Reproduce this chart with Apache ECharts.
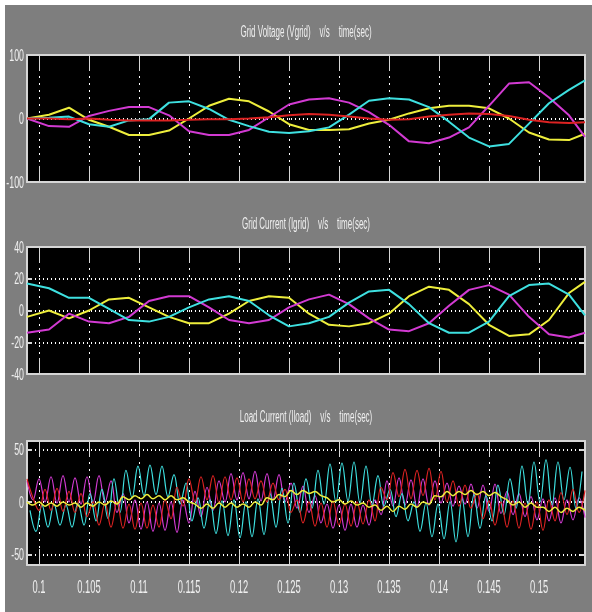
<!DOCTYPE html>
<html>
<head>
<meta charset="utf-8">
<script src="https://cdn.jsdelivr.net/npm/echarts@6/dist/echarts.min.js"></script>
<style>
  html, body { margin: 0; background: #ffffff; }
  #scope { width: 592px; height: 612px; }
</style>
</head>
<body>
<div id="scope"></div>
<script>
// ---- data ----
var timeTicks = [0.1, 0.105, 0.11, 0.115, 0.12, 0.125, 0.13, 0.135, 0.14, 0.145, 0.15];
var panelTitles = [
  "Grid Voltage (Vgrid)    v/s    time(sec)",
  "Grid Current (Igrid)    v/s    time(sec)",
  "Load Current (Iload)    v/s    time(sec)"
];
var vgridTicks = [-100, 0, 100];
var igridTicks = [-40, -20, 0, 20, 40];
var iloadTicks = [-50, 0, 50];

// sample instants used for the two upper scopes (s)
var scopeTime = [0.0988, 0.101, 0.103, 0.105, 0.107, 0.109, 0.111, 0.113, 0.115, 0.117,
  0.119, 0.121, 0.123, 0.125, 0.127, 0.129, 0.131, 0.133, 0.135, 0.137,
  0.139, 0.141, 0.143, 0.145, 0.147, 0.149, 0.151, 0.153, 0.1546];

// grid voltage
var vgridYellow = [0, 6, 17, -2, -13, -26, -26, -19, 0, 20, 31, 27, 11, -9, -18, -18, -17, -8, -2, 8, 16, 20, 20, 16, 0, -22, -33, -34, -24];
var vgridMagenta = [0, -12, -13, 4, 12, 18, 18, 5, -20, -26, -26, -18, 2, 22, 30, 32, 25, 10, -10, -36, -39, -30, -14, 20, 55, 57, 33, 5, -29];
var vgridCyan = [0, 1, 3, -9, -13, -3, -1, 25, 27, 15, -2, -12, -21, -23, -20, -14, 6, 28, 32, 30, 18, -5, -30, -44, -40, -8, 24, 45, 60];
var vgridRed = [0, 0, -1, 0, -2, -3, -3, -3, -2, -1, -1, 0, 2, 5, 7, 6, 3, 0, -2, -1, 3, 6, 8, 7, 4, -2, -6, -7, -6];

// grid current
var igridCyan = [17, 14, 8, 8, 1, -6, -7, -4, 2, 7, 9, 6, -3, -10, -8, -4, 5, 12, 13, 4, -8, -14, -14, -7, 9, 16, 17, 10, -3];
var igridYellow = [-4, 0, -5, 0, 7, 8, 2, -4, -8, -8, -2, 6, 9, 8, -2, -9, -10, -8, -2, 9, 15, 13, 4, -9, -16, -15, -6, 11, 18];
var igridMagenta = [-14, -12, -2, -7, -8, -4, 6, 9, 9, 2, -6, -8, -6, 2, 7, 10, 4, -5, -12, -13, -8, 3, 13, 16, 10, -4, -15, -17, -14];

// load current: peaks / troughs of the ripple, one every 0.6 ms
function sampleClock(start, step, count) {
  var out = [];
  for (var i = 0; i < count; i++) out.push(+(start + i * step).toFixed(5));
  return out;
}
var loadTime = sampleClock(0.0988, 0.0006, 94);
var loadTimeCyan = sampleClock(0.0991, 0.0006, 93);

var iloadMagenta = [20, 2, 22, 0, 24, -1, 25, 0, 23, -2,
  24, -1, 25, 0, 20, -10, 8, -20, 2, -26,
  0, -28, -1, -27, 0, -29, 2, -20, 10, -14,
  14, -8, 20, 0, 27, 2, 28, 3, 29, 1,
  27, 2, 26, 0, 18, -6, 15, -10, 6, -20,
  -2, -25, -3, -27, -2, -24, -3, -22, 2, -12,
  20, -4, 23, -3, 21, -5, 22, -3, 20, -1,
  18, -4, 15, -2, 17, -6, 16, -9, 17, -11,
  10, -12, 8, -14, 5, -17, 3, -18, 4, -20,
  2, -17, 4, -15];
var iloadRed = [22, 4, -8, 12, -8, 13, -9, 10, -10, 8,
  -14, 0, -22, -1, -24, 0, -25, -2, -26, -1,
  -25, -3, -24, 2, -16, 14, -4, 22, 0, 24,
  2, 25, -1, 24, 2, 23, 0, 22, 3, 20,
  0, 18, 2, 12, -10, 2, -20, 0, -23, -1,
  -24, 1, -22, -2, -23, 0, -21, 2, -18, 14,
  2, 28, 5, 31, 3, 30, 6, 32, 2, 29,
  0, 20, -4, 16, -6, 8, -16, 1, -22, 0,
  -24, 1, -25, -1, -26, 0, -27, 2, -18, 9,
  -12, 12, -10, 11];
var iloadCyan = [-8, -28, -3, -24, -2, -22, -3, -24, -1, -22,
  8, -18, 12, -16, 22, -10, 30, 4, 34, 6,
  35, 7, 34, 5, 26, -2, 18, -18, 4, -25,
  2, -30, 1, -32, 2, -34, 0, -33, 3, -31,
  8, -24, 13, -20, 18, -10, 22, -6, 30, -2,
  36, 0, 37, 1, 38, -1, 34, -3, 25, -4,
  12, -14, 8, -18, 0, -28, -1, -33, -2, -35,
  0, -38, 3, -33, 7, -25, 6, -18, 16, -12,
  22, -6, 34, -2, 38, 0, 40, -3, 38, 2,
  33, -6, 29];
var iloadYellow = [0, -3, 0, -4, -1, -4, 0, -3, -1, -5,
  -1, -4, 0, -3, 1, -2, 5, 2, 6, 3,
  7, 3, 6, 2, 6, 2, 4, 0, -2, -6,
  -2, -6, -1, -5, -1, -5, -2, -5, 0, -3,
  4, 2, 7, 5, 11, 7, 11, 8, 10, 6,
  4, 0, 2, -2, 1, -3, -1, -5, -3, -8,
  -4, -9, -4, -7, -2, -5, 0, -2, 6, 5,
  10, 6, 10, 7, 11, 7, 10, 6, 9, 5,
  2, -3, 0, -5, -1, -5, -5, -9, -5, -10,
  -6, -9, -5, -8];

// ---- styling ----
var YELLOW = "#eeee3c", MAGENTA = "#d23ad2", CYAN = "#3ee0e0", RED = "#dc2222";
var frameColor = "#d6d6d6";
var labelColor = "#efefef";
// scope fonts are tall and very condensed: regular sans squeezed horizontally
var scopeFont = '"Liberation Sans", Arial, sans-serif';

function pairs(times, values) {
  return times.map(function (t, i) { return [t, values[i]]; });
}

function xAxes(gi) {
  var base = {
    type: "value",
    gridIndex: gi,
    min: 0.0988,
    max: 0.1546,
    axisLine: { show: true, onZero: false, lineStyle: { color: frameColor, width: 2 } },
    axisTick: { show: true, inside: true, length: 16, customValues: timeTicks, lineStyle: { color: frameColor, width: 1 } },
    axisLabel: { show: false }
  };
  var bottom = echarts.util.merge({
    position: "bottom",
    splitLine: { show: true, lineStyle: { color: "#ffffff", width: 1, type: [2, 5] } }
  }, base, true);
  var top = echarts.util.merge({
    position: "top",
    splitLine: { show: false }
  }, base, true);
  return [bottom, top];
}

function yAxes(gi, min, max, ticks) {
  var base = {
    type: "value",
    gridIndex: gi,
    min: min,
    max: max,
    axisLine: { show: true, onZero: false, lineStyle: { color: frameColor, width: 2 } },
    axisTick: { show: true, inside: true, length: 5, customValues: ticks, lineStyle: { color: frameColor, width: 2 } },
    axisLabel: { show: false }
  };
  var left = echarts.util.merge({
    position: "left",
    splitLine: { show: true, lineStyle: { color: "#ffffff", width: 2, type: [1, 3] } }
  }, base, true);
  var right = echarts.util.merge({
    position: "right",
    splitLine: { show: false }
  }, base, true);
  return [left, right];
}

function trace(gi, times, values, color, width, smooth) {
  return {
    type: "line",
    xAxisIndex: gi * 2,
    yAxisIndex: gi * 2,
    data: pairs(times, values),
    showSymbol: false,
    symbol: "none",
    smooth: smooth || false,
    lineStyle: { color: color, width: width },
    itemStyle: { color: color },
    animation: false,
    silent: true
  };
}

function squeezedText(x, y, txt, align, size, scaleX) {
  return {
    type: "text",
    x: x,
    y: y,
    scaleX: scaleX,
    silent: true,
    style: {
      text: txt,
      fill: labelColor,
      font: size + "px " + scopeFont,
      textAlign: align,
      textVerticalAlign: "middle"
    }
  };
}

var titleY = [33, 225, 418];

var option = {
  backgroundColor: "#7e7e7e",
  animation: false,
  grid: [
    { left: 27, top: 55, width: 558, height: 127 },
    { left: 27, top: 247, width: 558, height: 127 },
    { left: 27, top: 441, width: 558, height: 124 }
  ].map(function (g) {
    g.show = true;
    g.backgroundColor = "#000000";
    g.borderWidth = 0;
    return g;
  }),
  xAxis: [].concat(xAxes(0), xAxes(1), xAxes(2)),
  yAxis: [].concat(
    yAxes(0, -100, 100, vgridTicks),
    yAxes(1, -40, 40, igridTicks),
    yAxes(2, -60, 58, iloadTicks)
  ),
  series: [
    trace(0, scopeTime, vgridYellow, YELLOW, 2),
    trace(0, scopeTime, vgridMagenta, MAGENTA, 2),
    trace(0, scopeTime, vgridCyan, CYAN, 2),
    trace(0, scopeTime, vgridRed, RED, 2),

    trace(1, scopeTime, igridYellow, YELLOW, 2),
    trace(1, scopeTime, igridMagenta, MAGENTA, 2),
    trace(1, scopeTime, igridCyan, CYAN, 2),

    trace(2, loadTime, iloadMagenta, MAGENTA, 1.2, 0.4),
    trace(2, loadTimeCyan, iloadCyan, CYAN, 1.2, 0.4),
    trace(2, loadTime, iloadRed, RED, 1.2, 0.4),
    trace(2, loadTime, iloadYellow, YELLOW, 1.5, 0.4)
  ]
};

var chart = echarts.init(document.getElementById("scope"));
chart.setOption(option);

// tick labels and titles placed through the axes' own scales
var overlay = [
  { type: "rect", shape: { x: 0, y: 0, width: 592, height: 5 }, style: { fill: "#ffffff" }, silent: true },
  { type: "rect", shape: { x: 0, y: 0, width: 5, height: 612 }, style: { fill: "#ffffff" }, silent: true }
];
panelTitles.forEach(function (txt, i) {
  var cx = (chart.convertToPixel({ xAxisIndex: i * 2 }, 0.0988) + chart.convertToPixel({ xAxisIndex: i * 2 }, 0.1546)) / 2;
  overlay.push(squeezedText(cx, titleY[i], txt, "center", 16, 0.5));
});
[vgridTicks, igridTicks, iloadTicks].forEach(function (ticks, gi) {
  ticks.forEach(function (v) {
    var py = chart.convertToPixel({ yAxisIndex: gi * 2 }, v);
    var px = chart.convertToPixel({ xAxisIndex: gi * 2 }, 0.0988);
    overlay.push(squeezedText(px - 3, py + 1, String(v), "right", 17, 0.52));
  });
});
timeTicks.forEach(function (t) {
  var px = chart.convertToPixel({ xAxisIndex: 4 }, t);
  var bottomY = chart.convertToPixel({ yAxisIndex: 4 }, -60);
  overlay.push(squeezedText(px, bottomY + 23, String(+t.toFixed(3)), "center", 18, 0.52));
});
chart.setOption({ graphic: overlay });
</script>
</body>
</html>
